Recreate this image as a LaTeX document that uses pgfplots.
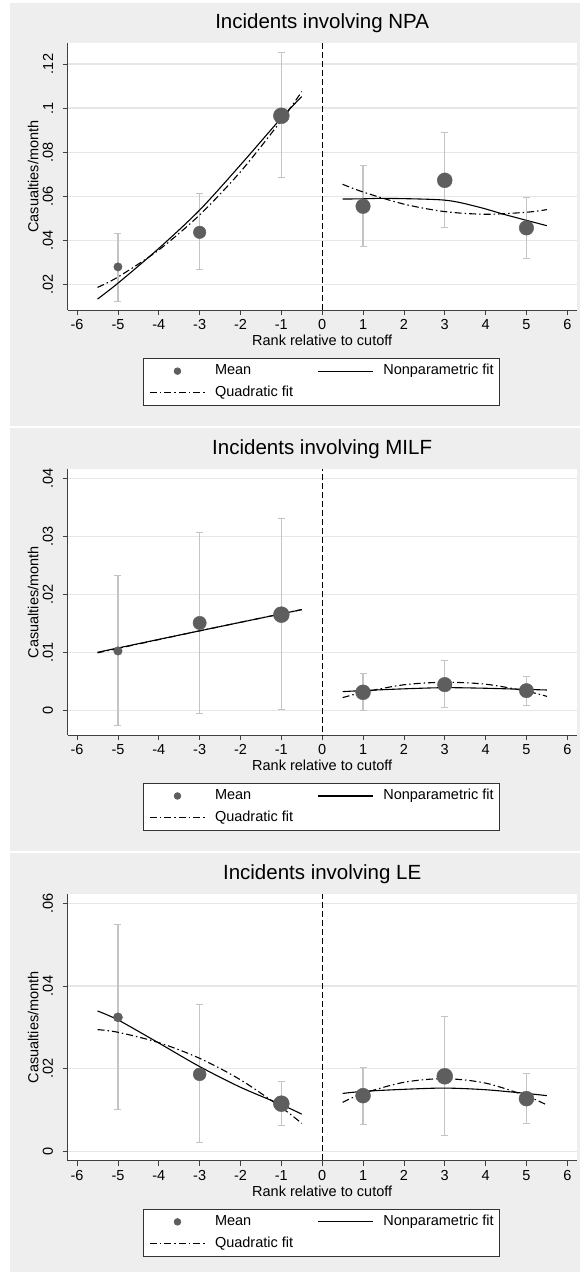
\documentclass[border=0pt]{standalone}
\usepackage{fontspec}
\setmainfont{Liberation Sans}
\usepackage{pgfplots}
\usepackage{pgfplotstable}
\pgfplotsset{compat=1.18}

\definecolor{panelgray}{HTML}{EEEEEE}
\definecolor{gridgray}{HTML}{E6E6E6}
\definecolor{markgray}{HTML}{5E5E5E}
\definecolor{errgray}{HTML}{C4C4C4}

% means with 95% bands, s = marker radius
\pgfplotstableread{
x  y       lo       hi      s
-5 0.0279  0.0124   0.0431  4.2
-3 0.0436  0.0265   0.0611  6.3
-1 0.0965  0.0684   0.1251  8.0
1  0.0554  0.0372   0.0738  7.3
3  0.0672  0.0456   0.0888  7.5
5  0.0456  0.0316   0.0596  7.3
}\tNPA
\pgfplotstableread{
x  y        lo        hi       s
-5 0.01023  -0.0027   0.02322  4.3
-3 0.01506  -0.00063  0.03057  6.7
-1 0.01649  0.00006   0.03299  8.0
1  0.0031   -0.0001   0.00632  7.5
3  0.00443  0.0004    0.00862  7.3
5  0.00339  0.00075   0.00586  7.2
}\tMILF
\pgfplotstableread{
x  y        lo       hi       s
-5 0.03242  0.01008  0.05484  4.6
-3 0.01863  0.00202  0.03548  6.5
-1 0.01153  0.00629  0.01694  8.0
1  0.01347  0.00661  0.02024  7.5
3  0.01815  0.00387  0.03258  8.0
5  0.01274  0.00685  0.01871  7.5
}\tLE

\pgfplotsset{
  statapanel/.style={
    scale only axis, width=509bp,
    xmin=-6.23, xmax=6.23,
    scaled y ticks=false,
    axis lines=left, axis line style={-, black!75, line width=0.9bp},
    axis background/.style={fill=white},
    tick align=outside, major tick length=5bp,
    tick style={black!75, line width=0.8bp},
    xtick={-6,...,6},
    xticklabels={-6,-5,-4,-3,-2,-1,0,1,2,3,4,5,6},
    ymajorgrids, grid style={gridgray, line width=1.2bp},
    tick label style={font=\fontsize{14.5bp}{16bp}\selectfont},
    xticklabel style={anchor=north, inner sep=0pt, yshift=-4.5bp},
    yticklabel style={xshift=-9.5bp, rotate=90, anchor=south, inner sep=0pt},
    title style={font=\fontsize{20.5bp}{23bp}\selectfont, at={(axis description cs:0.5,1.0525)}, anchor=center},
    xlabel style={font=\fontsize{14.5bp}{16bp}\selectfont, at={(axis description cs:0.5,-0.115)}, anchor=center},
    ylabel style={font=\fontsize{14.5bp}{16bp}\selectfont, at={(axis description cs:-0.0676,0.5)}, anchor=center},
    xlabel={Rank relative to cutoff},
    ylabel={Casualties/month},
    legend columns=2, legend cell align=left,
    legend style={at={(0.148,-0.18)}, anchor=north west, draw=black!80, fill=white,
      line width=0.8bp, font=\fontsize{14.5bp}{16bp}\selectfont,
      inner xsep=6bp, inner ysep=6bp, row sep=8bp,
      nodes={inner sep=0pt, text height=10.5bp, text depth=3bp},
      /tikz/every odd column/.append style={column sep=9.5bp},
      /tikz/every even column/.append style={column sep=24.5bp}},
  },
  errs/.style={forget plot, only marks, mark=none,
    error bars/.cd, y dir=both, y explicit,
    error bar style={errgray, line width=1.3bp},
    error mark options={errgray, rotate=90, mark size=3.5bp, line width=1bp}},
  means/.style={forget plot, scatter, only marks, mark=*,
    scatter/use mapped color={draw=markgray, fill=markgray},
    visualization depends on={\thisrow{s} \as \msize},
    scatter/@pre marker code/.append style={/tikz/mark size=\msize}},
  npfit/.style={forget plot, smooth, black, line width=1.1bp},
  qfit/.style={forget plot, smooth, black, line width=1.1bp, dash pattern=on 7bp off 3bp on 1.5bp off 3bp},
  cutline/.style={forget plot, black, line width=0.8bp, dash pattern=on 6bp off 3bp},
  linelegend/.style={legend image code/.code={\draw[##1] (0bp,0bp) -- (55bp,0bp);}},
  dotlegend/.style={legend image code/.code={\fill[markgray] (27.5bp,0bp) circle (3.3bp);}},
}

\newcommand{\statalegend}{%
  \addlegendimage{markgray, dotlegend}
  \addlegendentry{Mean}
  \addlegendimage{black, line width=1.1bp, linelegend}
  \addlegendentry{Nonparametric fit}
  \addlegendimage{black, line width=1.1bp, dash pattern=on 7bp off 3bp on 1.5bp off 3bp, linelegend}
  \addlegendentry{Quadratic fit}
}

\begin{document}
\begin{tikzpicture}
\useasboundingbox (0,0) rectangle (580bp,-1272bp);
\fill[white] (0,0) rectangle (580bp,-1272bp);
\fill[panelgray] (10bp,-3bp) rectangle (580bp,-426bp);
\fill[panelgray] (10bp,-428bp) rectangle (580bp,-851bp);
\fill[panelgray] (10bp,-853bp) rectangle (580bp,-1272bp);

% ---- NPA
\begin{axis}[statapanel, at={(67.7bp,-310bp)}, anchor=south west, height=266.7bp,
  ymin=0.00833, ymax=0.1294,
  ytick={0.02,0.04,0.06,0.08,0.1,0.12}, yticklabels={.02,.04,.06,.08,.1,.12},
  title={Incidents involving NPA}]
\addplot[cutline] coordinates {(0,0) (0,0.2)};
\addplot[errs] table[x=x, y=y, y error plus expr=\thisrow{hi}-\thisrow{y}, y error minus expr=\thisrow{y}-\thisrow{lo}] {\tNPA};
\addplot[means] table[x=x, y=y] {\tNPA};
\addplot[npfit] coordinates {(-5.5,0.0133) (-5,0.0205) (-4,0.0363) (-3,0.0537) (-2,0.0742) (-1,0.0955) (-0.5,0.1052)};
\addplot[npfit] coordinates {(0.5,0.0587) (1,0.0588) (1.6,0.0590) (3,0.0582) (3.8,0.0552) (4.5,0.0515) (5.5,0.0466)};
\addplot[qfit] coordinates {(-5.5,0.0186) (-5,0.0233) (-4,0.0356) (-3,0.0515) (-2,0.0711) (-1,0.0944) (-0.5,0.1075)};
\addplot[qfit] coordinates {(0.5,0.0654) (1,0.0619) (2,0.0564) (3,0.0530) (4,0.0518) (5,0.0527) (5.5,0.0539)};
\statalegend
\end{axis}

% ---- MILF
\begin{axis}[statapanel, at={(67.7bp,-735bp)}, anchor=south west, height=265.7bp,
  ymin=-0.00426, ymax=0.04155,
  ytick={0,0.01,0.02,0.03,0.04}, yticklabels={0,.01,.02,.03,.04},
  title={Incidents involving MILF}]
\addplot[cutline] coordinates {(0,-0.1) (0,0.1)};
\addplot[errs] table[x=x, y=y, y error plus expr=\thisrow{hi}-\thisrow{y}, y error minus expr=\thisrow{y}-\thisrow{lo}] {\tMILF};
\addplot[means] table[x=x, y=y] {\tMILF};
\addplot[npfit] coordinates {(-5.5,0.0100) (-3,0.0137) (-0.5,0.01736)};
\addplot[npfit] coordinates {(0.5,0.00322) (1,0.0034) (2,0.0037) (3,0.0039) (4,0.0038) (5,0.0036) (5.5,0.0035)};
\addplot[qfit] coordinates {(-5.5,0.0099) (-3,0.0137) (-0.5,0.01736)};
\addplot[qfit] coordinates {(0.5,0.00218) (1,0.0031) (2,0.0044) (3,0.00483) (4,0.0045) (5,0.0033) (5.5,0.0024)};
\statalegend
\end{axis}

% ---- LE
\begin{axis}[statapanel, at={(67.7bp,-1160.7bp)}, anchor=south west, height=266.7bp,
  ymin=-0.00227, ymax=0.06225,
  ytick={0,0.02,0.04,0.06}, yticklabels={0,.02,.04,.06},
  title={Incidents involving LE}]
\addplot[cutline] coordinates {(0,-0.1) (0,0.1)};
\addplot[errs] table[x=x, y=y, y error plus expr=\thisrow{hi}-\thisrow{y}, y error minus expr=\thisrow{y}-\thisrow{lo}] {\tLE};
\addplot[means] table[x=x, y=y] {\tLE};
\addplot[npfit] coordinates {(-5.5,0.03395) (-5,0.0318) (-4,0.0262) (-3,0.0205) (-2,0.0155) (-1,0.0113) (-0.5,0.0090)};
\addplot[npfit] coordinates {(0.5,0.0140) (1,0.0145) (2,0.0150) (3,0.0153) (4,0.0149) (5,0.0140) (5.5,0.01347)};
\addplot[qfit] coordinates {(-5.5,0.02944) (-5,0.0288) (-4,0.0263) (-3,0.0225) (-2,0.0173) (-1,0.0106) (-0.5,0.00677)};
\addplot[qfit] coordinates {(0.5,0.01185) (1,0.0140) (2,0.0167) (3,0.01758) (4,0.0165) (5,0.0134) (5.5,0.0112)};
\statalegend
\end{axis}
\end{tikzpicture}
\end{document}
